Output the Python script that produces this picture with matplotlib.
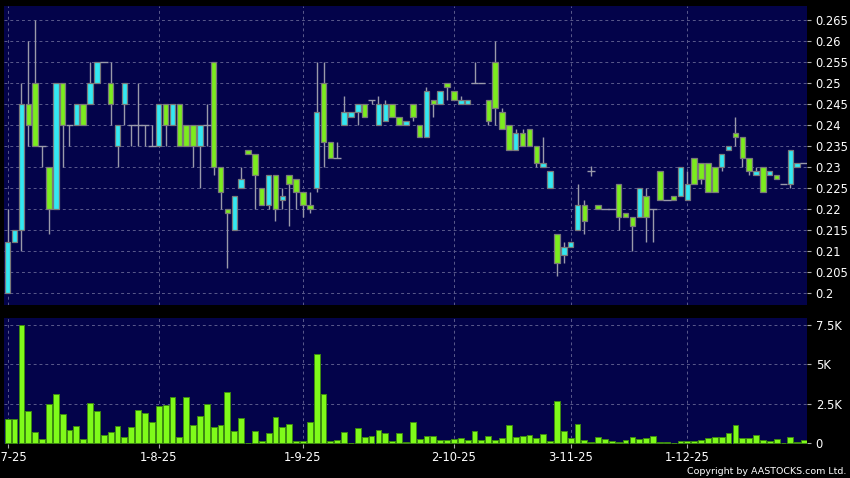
import matplotlib
matplotlib.use("Agg")
import matplotlib.pyplot as plt
import numpy as np

# ---- data ----
opens = [0.200, 0.212, 0.215, 0.245, 0.250, 0.235, 0.230, 0.220, 0.250, 0.240,
         0.240, 0.245, 0.245, 0.250, 0.255, 0.250, 0.235, 0.245, 0.240, 0.240,
         0.240, 0.235, 0.235, 0.245, 0.240, 0.245, 0.240, 0.240, 0.235, 0.240,
         0.255, 0.230, 0.220, 0.215, 0.225, 0.234, 0.233, 0.225, 0.221, 0.228,
         0.222, 0.228, 0.227, 0.224, 0.221, 0.225, 0.250, 0.236, 0.232, 0.240,
         0.242, 0.243, 0.245, 0.246, 0.240, 0.241, 0.245, 0.242, 0.240, 0.245,
         0.240, 0.237, 0.246, 0.245, 0.250, 0.248, 0.245, 0.245, 0.250, 0.250,
         0.246, 0.255, 0.243, 0.240, 0.234, 0.238, 0.239, 0.235, 0.230, 0.225,
         0.214, 0.209, 0.211, 0.215, 0.221, 0.229, 0.221, 0.220, 0.220, 0.226,
         0.219, 0.218, 0.218, 0.223, 0.220, 0.229, 0.222, 0.223, 0.223, 0.222,
         0.232, 0.231, 0.231, 0.230, 0.230, 0.234, 0.238, 0.237, 0.232, 0.228,
         0.230, 0.228, 0.228, 0.226, 0.226, 0.230, 0.231]
highs = [0.220, 0.215, 0.250, 0.260, 0.265, 0.235, 0.230, 0.250, 0.250, 0.240,
         0.245, 0.245, 0.255, 0.255, 0.255, 0.255, 0.240, 0.250, 0.240, 0.250,
         0.240, 0.240, 0.245, 0.245, 0.245, 0.245, 0.240, 0.240, 0.240, 0.245,
         0.255, 0.230, 0.220, 0.223, 0.230, 0.234, 0.233, 0.225, 0.228, 0.228,
         0.225, 0.228, 0.227, 0.224, 0.224, 0.255, 0.255, 0.236, 0.236, 0.247,
         0.243, 0.245, 0.245, 0.246, 0.247, 0.246, 0.245, 0.242, 0.241, 0.245,
         0.240, 0.249, 0.246, 0.248, 0.250, 0.248, 0.247, 0.246, 0.255, 0.250,
         0.246, 0.260, 0.244, 0.240, 0.239, 0.239, 0.239, 0.235, 0.237, 0.229,
         0.214, 0.212, 0.212, 0.226, 0.222, 0.2303, 0.221, 0.220, 0.220, 0.226,
         0.219, 0.218, 0.225, 0.225, 0.220, 0.229, 0.222, 0.223, 0.230, 0.229,
         0.232, 0.231, 0.231, 0.230, 0.233, 0.235, 0.242, 0.237, 0.232, 0.230,
         0.230, 0.229, 0.228, 0.226, 0.234, 0.231, 0.231]
lows = [0.200, 0.212, 0.210, 0.235, 0.235, 0.230, 0.214, 0.220, 0.230, 0.235,
        0.240, 0.240, 0.245, 0.250, 0.255, 0.240, 0.230, 0.240, 0.235, 0.235,
        0.235, 0.235, 0.235, 0.235, 0.240, 0.235, 0.235, 0.230, 0.225, 0.235,
        0.228, 0.220, 0.206, 0.215, 0.225, 0.233, 0.220, 0.221, 0.220, 0.217,
        0.220, 0.216, 0.220, 0.218, 0.219, 0.224, 0.230, 0.232, 0.232, 0.240,
        0.242, 0.240, 0.242, 0.245, 0.240, 0.241, 0.242, 0.240, 0.240, 0.241,
        0.237, 0.237, 0.242, 0.245, 0.246, 0.246, 0.245, 0.245, 0.250, 0.250,
        0.240, 0.240, 0.239, 0.234, 0.234, 0.235, 0.235, 0.230, 0.230, 0.225,
        0.204, 0.207, 0.211, 0.215, 0.214, 0.2278, 0.220, 0.220, 0.220, 0.215,
        0.218, 0.210, 0.218, 0.212, 0.212, 0.222, 0.222, 0.222, 0.223, 0.222,
        0.226, 0.226, 0.224, 0.224, 0.229, 0.234, 0.235, 0.230, 0.228, 0.228,
        0.224, 0.228, 0.227, 0.226, 0.225, 0.230, 0.231]
closes = [0.212, 0.215, 0.245, 0.240, 0.235, 0.235, 0.220, 0.250, 0.240, 0.240,
          0.245, 0.240, 0.250, 0.255, 0.255, 0.245, 0.240, 0.250, 0.240, 0.240,
          0.240, 0.235, 0.245, 0.240, 0.245, 0.235, 0.235, 0.235, 0.240, 0.240,
          0.230, 0.224, 0.219, 0.223, 0.227, 0.233, 0.228, 0.221, 0.228, 0.220,
          0.223, 0.226, 0.224, 0.221, 0.220, 0.243, 0.236, 0.232, 0.232, 0.243,
          0.243, 0.245, 0.242, 0.246, 0.245, 0.245, 0.242, 0.240, 0.241, 0.242,
          0.237, 0.248, 0.245, 0.248, 0.249, 0.246, 0.246, 0.246, 0.250, 0.250,
          0.241, 0.244, 0.239, 0.234, 0.238, 0.235, 0.235, 0.231, 0.231, 0.229,
          0.207, 0.211, 0.212, 0.221, 0.217, 0.229, 0.220, 0.220, 0.220, 0.218,
          0.218, 0.216, 0.225, 0.218, 0.220, 0.222, 0.222, 0.222, 0.230, 0.226,
          0.226, 0.227, 0.224, 0.224, 0.233, 0.235, 0.237, 0.232, 0.229, 0.229,
          0.224, 0.229, 0.227, 0.226, 0.234, 0.231, 0.231]
volumes = [1510, 1510, 7450, 2040, 710, 250, 2480, 3130, 1870, 840,
           1070, 250, 2580, 2040, 520, 740, 1070, 420, 1010, 2100,
           1930, 1320, 2350, 2440, 2900, 420, 2900, 1160, 1720, 2500,
           1010, 1130, 3250, 800, 1580, 40, 800, 170, 660, 1640,
           1050, 1200, 170, 170, 1340, 5630, 3150, 170, 210, 710,
           20, 950, 380, 440, 820, 670, 130, 630, 80, 1340,
           270, 460, 460, 210, 210, 280, 320, 200, 800, 230,
           460, 210, 360, 1180, 420, 460, 520, 340, 570, 170,
           2690, 800, 360, 1230, 210, 110, 370, 250, 126, 70,
           210, 430, 280, 360, 460, 84, 84, 30, 126, 126,
           150, 200, 337, 420, 380, 650, 1150, 330, 337, 505,
           240, 140, 295, 30, 390, 63, 190]
date_labels = ["2-7-25", "1-8-25", "1-9-25", "2-10-25", "3-11-25", "1-12-25"]
date_index = [0, 22, 43, 65, 82, 99]
price_ticks = [0.2, 0.205, 0.21, 0.215, 0.22, 0.225, 0.23, 0.235, 0.24, 0.245,
               0.25, 0.255, 0.26, 0.265]
vol_ticks = [0, 2500, 5000, 7500]
vol_tick_labels = ["0", "2.5K", "5K", "7.5K"]

# ---- style ----
BG = "#000000"
PANEL = "#03034a"
GRID = "#5a5a8c"
UP = "#33e8f2"
DOWN = "#7cec1e"
WICK = "#9a9aaa"
VOLC = "#7ffa1a"
TXT = "#ffffff"

fig = plt.figure(figsize=(8.5, 4.78), dpi=100, facecolor=BG)
W, H = 850.0, 478.0
ax = fig.add_axes([4 / W, 1 - 305 / H, (807.3 - 4) / W, (305 - 6) / H], facecolor=PANEL)
axv = fig.add_axes([4 / W, 1 - 444.3 / H, (807.3 - 4) / W, (444.3 - 318.3) / H], facecolor=PANEL)

o = np.array(opens); h = np.array(highs); l = np.array(lows); c = np.array(closes)
v = np.array(volumes)
x = np.arange(len(o))

for a in (ax, axv):
    a.set_xlim(-0.54, 116.47)
    for s in a.spines.values():
        s.set_visible(False)
    a.yaxis.tick_right()
    a.tick_params(axis="y", colors="#aaaaaa", labelcolor=TXT, length=3, width=0.8,
                  pad=3, labelsize=8.3)
    a.set_axisbelow(True)
    for xi in date_index:
        a.axvline(xi, color=GRID, lw=0.7, ls=(0, (3, 3)), zorder=0)

ax.set_ylim(0.19707, 0.26834)
ax.set_yticks(price_ticks)
ax.set_yticklabels([("%.3f" % t).rstrip("0").rstrip(".") for t in price_ticks])
ax.set_xticks([])
for t in price_ticks:
    ax.axhline(t, color=GRID, lw=0.7, ls=(0, (3, 3)), zorder=0)

# wicks
ax.vlines(x, l, h, color=WICK, lw=1.0, zorder=2)
# bodies
body = np.abs(c - o)
is_doji = body < 1e-9
up = c > o
cols = [UP if u else DOWN for u in up]
nd = ~is_doji
ax.bar(x[nd], body[nd], bottom=np.minimum(o, c)[nd], width=0.8,
       color=[cols[i] for i in x[nd]], edgecolor="#7a7a7a", linewidth=0.9, zorder=3)
ax.hlines(o[is_doji], x[is_doji] - 0.55, x[is_doji] + 0.55, color=WICK, lw=1.0, zorder=3)

# volume
axv.set_ylim(-60, 7905)
axv.set_yticks(vol_ticks)
axv.set_yticklabels(vol_tick_labels)
for t in vol_ticks[1:]:
    axv.axhline(t, color=GRID, lw=0.7, ls=(0, (3, 3)), zorder=0)
axv.bar(x, v, width=0.85, color=VOLC, edgecolor="#3d8a12", linewidth=0.7, zorder=3)
axv.set_xticks(date_index)
axv.set_xticklabels(date_labels)
axv.tick_params(axis="x", colors="#aaaaaa", labelcolor=TXT, length=3, width=0.8,
                pad=1.5, labelsize=8.3)

fig.text(846 / W, 1 - 472 / H, "Copyright by AASTOCKS.com Ltd.", color=TXT,
         fontsize=6.8, ha="right", va="center")

fig.savefig("out.png", dpi=100, facecolor=BG)
